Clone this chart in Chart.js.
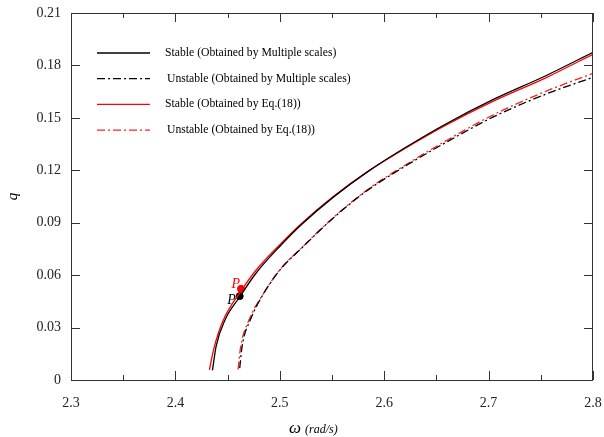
<!DOCTYPE html>
<html>
<head>
<meta charset="utf-8">
<script src="https://cdn.jsdelivr.net/npm/chart.js@4.4.1/dist/chart.umd.min.js"></script>
<style>
  html, body { margin: 0; padding: 0; background: #fff; }
  #wrap { width: 604px; height: 437px; }
</style>
</head>
<body>
<div id="wrap"><canvas id="chart"></canvas></div>
<script>
// omega (rad/s) and q, one pair of arrays per curve
var stableMsW   = [2.4355, 2.4390, 2.4478, 2.4616, 2.4768, 2.5010, 2.5203, 2.5510, 2.5849, 2.6203, 2.6590, 2.7041, 2.7558, 2.8000];
var stableMsQ   = [0.0055, 0.0193, 0.0347, 0.0475, 0.0608, 0.0771, 0.0887, 0.1045, 0.1195, 0.1330, 0.1465, 0.1604, 0.1744, 0.1875];
var unstableMsW = [2.4616, 2.4639, 2.4720, 2.4833, 2.5010, 2.5203, 2.5510, 2.5849, 2.6203, 2.6590, 2.7041, 2.7558, 2.8000];
var unstableMsQ = [0.0068, 0.0193, 0.0347, 0.0482, 0.0636, 0.0751, 0.0926, 0.1089, 0.1224, 0.1359, 0.1504, 0.1638, 0.1732];
var stableEqW   = [2.4326, 2.4370, 2.4455, 2.4632, 2.4768, 2.5010, 2.5203, 2.5510, 2.5849, 2.6203, 2.6590, 2.7041, 2.7558, 2.8000];
var stableEqQ   = [0.0058, 0.0184, 0.0338, 0.0512, 0.0625, 0.0780, 0.0893, 0.1048, 0.1195, 0.1326, 0.1458, 0.1594, 0.1732, 0.1864];
var unstableEqW = [2.4600, 2.4625, 2.4710, 2.4833, 2.5010, 2.5203, 2.5510, 2.5849, 2.6203, 2.6590, 2.7041, 2.7558, 2.8000];
var unstableEqQ = [0.0060, 0.0190, 0.0350, 0.0485, 0.0638, 0.0753, 0.0928, 0.1093, 0.1230, 0.1368, 0.1516, 0.1654, 0.1755];
// the two marked points P
var pointMs = [2.4616, 0.0480];
var pointEq = [2.4628, 0.0522];

var xTicks = [2.3, 2.4, 2.5, 2.6, 2.7, 2.8];
var yTicks = [0, 0.03, 0.06, 0.09, 0.12, 0.15, 0.18, 0.21];

var seriesNames = [
  'Stable (Obtained by Multiple scales)',
  'Unstable (Obtained by Multiple scales)',
  'Stable (Obtained by Eq.(18))',
  'Unstable (Obtained by Eq.(18))'
];

var SERIF = '"Liberation Serif", "DejaVu Serif", serif';
var dashDot = [8, 3, 2, 3];

function pts(w, q) {
  return w.map(function(v, i) { return { x: v, y: q[i] }; });
}

function lineSet(label, w, q, color, dash) {
  return {
    label: label,
    data: pts(w, q),
    showLine: true,
    borderColor: color,
    backgroundColor: color,
    borderWidth: 1.3,
    borderDash: dash,
    pointRadius: 0,
    cubicInterpolationMode: 'monotone',
    fill: false
  };
}

// frame, inward ticks, legend, P labels and the x title
var decor = {
  id: 'decor',
  afterDraw: function(chart) {
    var ctx = chart.ctx;
    var a = chart.chartArea;
    var xs = chart.scales.x, ys = chart.scales.y;
    ctx.save();
    ctx.strokeStyle = '#333';
    ctx.lineWidth = 1;
    ctx.strokeRect(a.left + 0.5, a.top + 0.5, a.right - a.left - 1, a.bottom - a.top);

    ctx.beginPath();
    xTicks.forEach(function(v, i) {
      var px = Math.round(xs.getPixelForValue(v)) + 0.5;
      ctx.moveTo(px, a.bottom); ctx.lineTo(px, a.bottom - 9);
      ctx.moveTo(px, a.top); ctx.lineTo(px, a.top + 9);
      if (i < xTicks.length - 1) {
        var pm = Math.round(xs.getPixelForValue((v + xTicks[i + 1]) / 2)) + 0.5;
        ctx.moveTo(pm, a.bottom); ctx.lineTo(pm, a.bottom - 5);
        ctx.moveTo(pm, a.top); ctx.lineTo(pm, a.top + 5);
      }
    });
    yTicks.forEach(function(v) {
      var py = Math.round(ys.getPixelForValue(v)) + 0.5;
      ctx.moveTo(a.left, py); ctx.lineTo(a.left + 9, py);
      ctx.moveTo(a.right, py); ctx.lineTo(a.right - 9, py);
    });
    ctx.stroke();

    // legend
    ctx.font = '11.7px ' + SERIF;
    ctx.textBaseline = 'middle';
    ctx.fillStyle = '#000';
    for (var i = 0; i < 4; i++) {
      var ds = chart.data.datasets[i];
      var y = a.top + 40 + i * 25.7;
      ctx.beginPath();
      ctx.setLineDash(ds.borderDash || []);
      ctx.strokeStyle = ds.borderColor;
      ctx.lineWidth = 1.3;
      ctx.moveTo(a.left + 26, y);
      ctx.lineTo(a.left + 79, y);
      ctx.stroke();
      ctx.setLineDash([]);
      ctx.fillText(ds.label, a.left + 94 + (i % 2 ? 2 : 0), y);
    }

    // P labels next to the marked points
    ctx.font = 'italic 14px ' + SERIF;
    ctx.textAlign = 'right';
    ctx.textBaseline = 'alphabetic';
    ctx.fillStyle = '#ff0000';
    ctx.fillText('P', xs.getPixelForValue(pointEq[0]) - 1, ys.getPixelForValue(pointEq[1]) - 1);
    ctx.fillStyle = '#000';
    ctx.fillText('P', xs.getPixelForValue(pointMs[0]) - 4, ys.getPixelForValue(pointMs[1]) + 8);

    // x axis title
    var cx = (a.left + a.right) / 2;
    ctx.textAlign = 'left';
    ctx.font = 'italic 17px ' + SERIF;
    ctx.fillText('\u03c9', cx - 43, a.bottom + 53);
    ctx.font = 'italic 12px ' + SERIF;
    ctx.fillText('(rad/s)', cx - 27, a.bottom + 53);
    ctx.restore();
  }
};

new Chart(document.getElementById('chart'), {
  type: 'scatter',
  data: {
    datasets: [
      lineSet(seriesNames[0], stableMsW, stableMsQ, '#000000', []),
      lineSet(seriesNames[1], unstableMsW, unstableMsQ, '#000000', dashDot),
      lineSet(seriesNames[2], stableEqW, stableEqQ, '#ff0000', []),
      lineSet(seriesNames[3], unstableEqW, unstableEqQ, '#ff2020', dashDot),
      { label: 'P (MS)', data: [{ x: pointMs[0], y: pointMs[1] }], pointRadius: 3.5,
        backgroundColor: '#000', borderColor: '#000', showLine: false },
      { label: 'P (Eq)', data: [{ x: pointEq[0], y: pointEq[1] }], pointRadius: 3.5,
        backgroundColor: '#ff0000', borderColor: '#ff0000', showLine: false }
    ]
  },
  plugins: [decor],
  options: {
    responsive: true,
    maintainAspectRatio: false,
    animation: false,
    layout: { padding: { top: 13, right: 11, left: 0, bottom: 0 } },
    plugins: {
      legend: { display: false },
      tooltip: { enabled: false }
    },
    scales: {
      x: {
        type: 'linear',
        min: 2.3, max: 2.8,
        afterBuildTicks: function(s) { s.ticks = xTicks.map(function(v) { return { value: v }; }); },
        afterFit: function(s) { s.height = 57; s.paddingLeft = 0; s.paddingRight = 0; },
        grid: { display: false, drawTicks: false },
        border: { display: false },
        ticks: {
          padding: 15,
          color: '#222',
          font: { family: SERIF, size: 14 },
          callback: function(v) { return v.toFixed(1); }
        }
      },
      y: {
        type: 'linear',
        min: 0, max: 0.21,
        afterBuildTicks: function(s) { s.ticks = yTicks.map(function(v) { return { value: v }; }); },
        afterFit: function(s) { s.width = 71; s.paddingTop = 0; s.paddingBottom = 0; },
        grid: { display: false, drawTicks: false },
        border: { display: false },
        ticks: {
          padding: 10,
          color: '#222',
          font: { family: SERIF, size: 14 },
          callback: function(v) { return v === 0 ? '0' : v.toFixed(2); }
        },
        title: {
          display: true,
          text: 'q',
          color: '#000',
          padding: { top: 4, bottom: 0 },
          font: { family: SERIF, size: 15, style: 'italic' }
        }
      }
    }
  }
});
</script>
</body>
</html>
